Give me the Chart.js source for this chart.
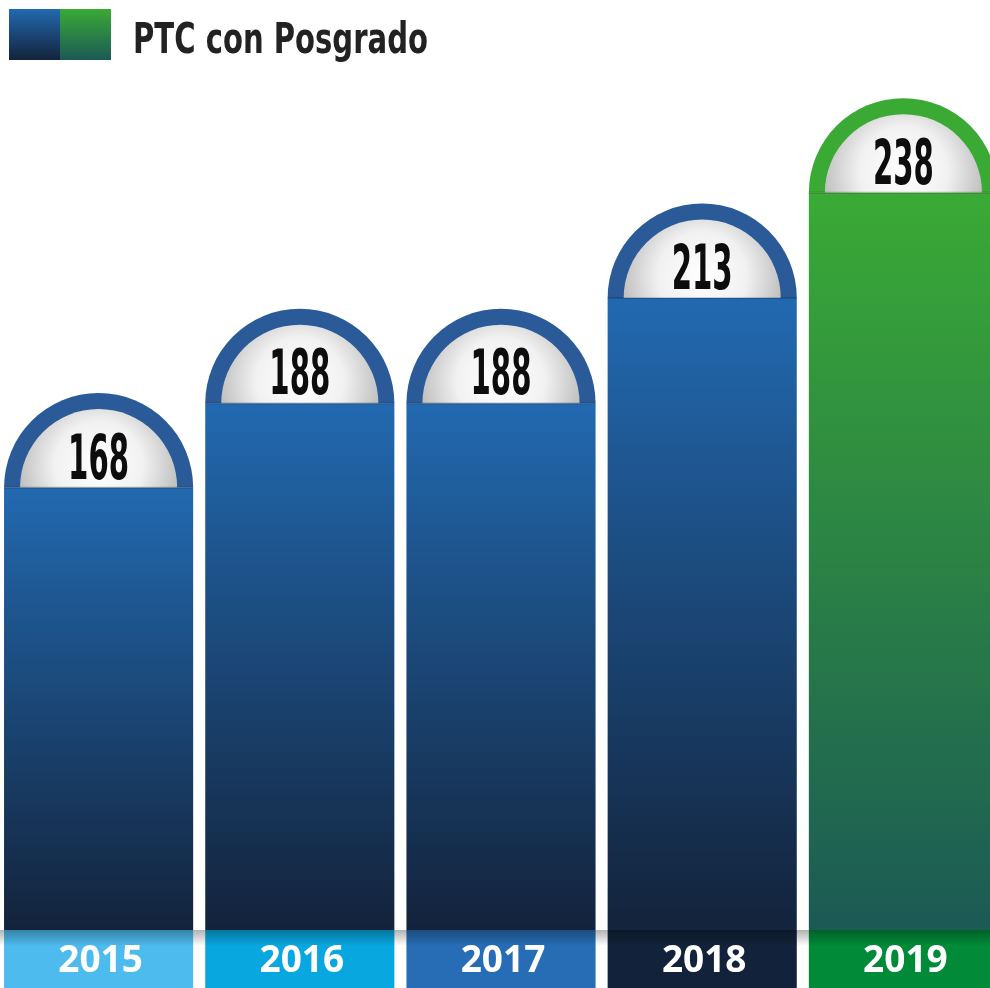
<!DOCTYPE html>
<html>
<head>
<meta charset="utf-8">
<script src="https://cdn.jsdelivr.net/npm/chart.js@4/dist/chart.umd.min.js"></script>
<style>
  html, body { margin: 0; padding: 0; background: #fff; overflow: hidden; width: 990px; height: 988px; }
  #wrap { position: absolute; left: -2px; top: 0; width: 1006px; height: 988px; }
</style>
</head>
<body>
<div id="wrap"><canvas id="chart" width="1006" height="988"></canvas></div>
<script>
// Data
const years = ['2015', '2016', '2017', '2018', '2019'];
const ptcPosgrado = [168, 188, 188, 213, 238];
const seriesLabel = 'PTC con Posgrado';

// Colours per bar
const barTop = ['#2269b0', '#2269b0', '#2269b0', '#2269b0', '#3aaa35'];
const barBottom = ['#13233b', '#13233b', '#13233b', '#13233b', '#1b5a55'];
const ringColors = ['#2a5a98', '#2a5a98', '#2a5a98', '#2a5a98', '#3aaa35'];
const yearBoxColors = ['#4dbbee', '#09a7e0', '#276db5', '#12223a', '#018a37'];

const OFFSET = 2; // canvas sits 2px left of the page

function barGradient(ctx) {
  const chart = ctx.chart;
  const i = ctx.dataIndex;
  if (!chart.chartArea || i === undefined) return barTop[i] || barTop[0];
  const top = chart.scales.y.getPixelForValue(ptcPosgrado[i]);
  const g = chart.ctx.createLinearGradient(0, top, 0, chart.chartArea.bottom);
  g.addColorStop(0, barTop[i]);
  g.addColorStop(1, barBottom[i]);
  return g;
}

// Fit text horizontally to a target width (condensed look)
function fitText(c, text, x, y, width, align) {
  const w = c.measureText(text).width;
  const sx = width / w;
  c.save();
  c.translate(x, y);
  c.scale(sx, 1);
  c.textAlign = align;
  c.fillText(text, 0, 0);
  c.restore();
}

const decorations = {
  id: 'decorations',
  afterDatasetsDraw(chart) {
    const c = chart.ctx;
    const meta = chart.getDatasetMeta(0);
    const bottom = chart.chartArea.bottom;

    meta.data.forEach((bar, i) => {
      const x = bar.x, y = bar.y, r = bar.width / 2;
      // outer ring
      c.save();
      c.beginPath();
      c.arc(x, y, r, Math.PI, 0);
      c.closePath();
      c.fillStyle = ringColors[i];
      c.fill();
      // inner silver dome
      const ri = r - 16;
      const g = c.createRadialGradient(x, y - 22, 0, x, y - 22, ri + 10);
      g.addColorStop(0, '#ffffff');
      g.addColorStop(0.5, '#f1f1f1');
      g.addColorStop(1, '#b5b5b5');
      c.beginPath();
      c.arc(x, y, ri, Math.PI, 0);
      c.closePath();
      c.fillStyle = g;
      c.fill();
      // thin edge at bar top
      c.fillStyle = 'rgba(0,0,0,0.18)';
      c.fillRect(x - r, y - 1, bar.width, 2);
      // value
      c.fillStyle = '#0d0d0d';
      c.font = 'bold 62px "Liberation Sans Narrow", "DejaVu Sans Condensed", sans-serif';
      c.textBaseline = 'alphabetic';
      fitText(c, String(ptcPosgrado[i]), x, y - 9, 61, 'center');
      c.restore();

      // year box
      c.save();
      c.fillStyle = yearBoxColors[i];
      c.fillRect(x - r, bottom, bar.width, 58);
      c.restore();
    });

    // shadow across top of year band
    const sh = c.createLinearGradient(0, bottom, 0, bottom + 16);
    sh.addColorStop(0, 'rgba(0,0,0,0.3)');
    sh.addColorStop(1, 'rgba(0,0,0,0)');
    c.fillStyle = sh;
    c.fillRect(0, bottom, chart.width, 16);

    // year labels
    c.save();
    c.fillStyle = '#ffffff';
    c.font = 'bold 37px "Open Sans", "DejaVu Sans", sans-serif';
    c.textAlign = 'center';
    c.textBaseline = 'alphabetic';
    meta.data.forEach((bar, i) => {
      c.fillText(years[i], bar.x + 2, bottom + 42);
    });
    c.restore();

    // legend
    c.save();
    const lb = c.createLinearGradient(0, 9, 0, 60);
    lb.addColorStop(0, barTop[0]);
    lb.addColorStop(1, barBottom[0]);
    c.fillStyle = lb;
    c.fillRect(9 + OFFSET, 9, 51, 51);
    const lg = c.createLinearGradient(0, 9, 0, 60);
    lg.addColorStop(0, barTop[4]);
    lg.addColorStop(1, barBottom[4]);
    c.fillStyle = lg;
    c.fillRect(60 + OFFSET, 9, 51, 51);
    c.fillStyle = '#222222';
    c.font = 'bold 43px "Liberation Sans Narrow", "DejaVu Sans Condensed", sans-serif';
    c.textBaseline = 'alphabetic';
    fitText(c, seriesLabel, 133 + OFFSET, 53, 295, 'left');
    c.restore();
  }
};

new Chart(document.getElementById('chart'), {
  type: 'bar',
  data: {
    labels: years,
    datasets: [{
      label: seriesLabel,
      data: ptcPosgrado,
      backgroundColor: barGradient,
      borderWidth: 0,
      barPercentage: 0.94,
      categoryPercentage: 1.0
    }]
  },
  options: {
    responsive: false,
    animation: false,
    devicePixelRatio: 1,
    layout: { padding: { top: 100, bottom: 58, left: 0, right: 0 } },
    plugins: {
      legend: { display: false },
      tooltip: { enabled: false }
    },
    scales: {
      x: { display: false, grid: { display: false } },
      y: { display: false, min: 63, max: 260, grid: { display: false } }
    }
  },
  plugins: [decorations]
});
</script>
</body>
</html>
